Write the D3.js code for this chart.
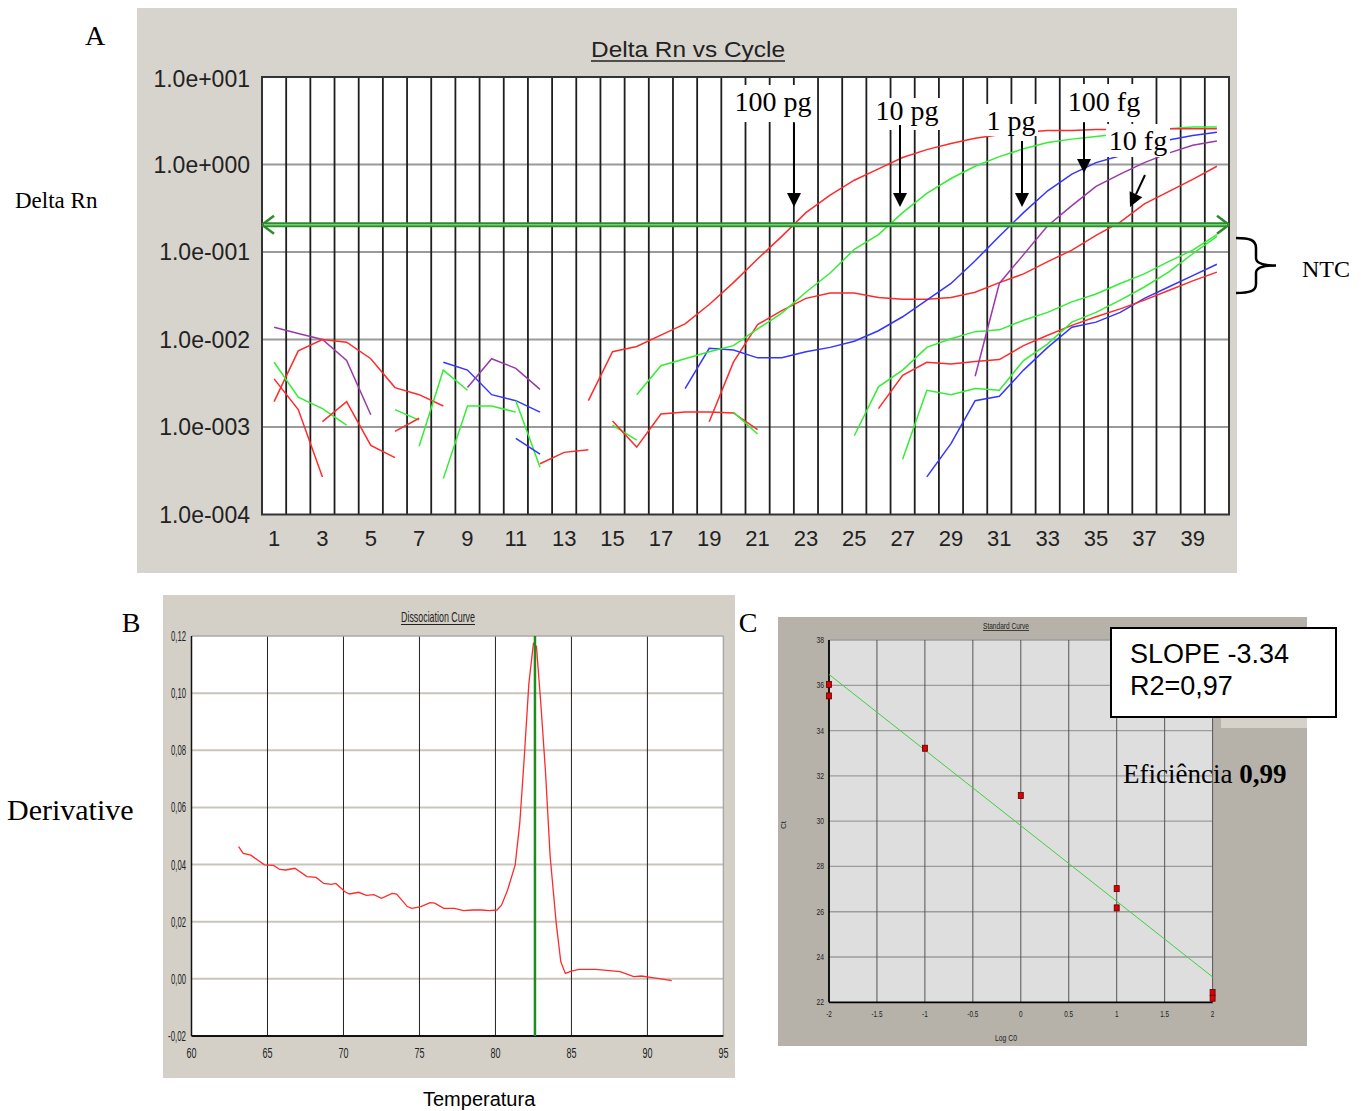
<!DOCTYPE html>
<html><head><meta charset="utf-8">
<script src="https://cdn.jsdelivr.net/npm/d3@7"></script>
<style>body{margin:0;background:#fff}svg{display:block}</style>
</head><body>
<svg id="c" width="1368" height="1111"></svg>
<script>
// ---------- Panel A data ----------
const xTicksA = [1,3,5,7,9,11,13,15,17,19,21,23,25,27,29,31,33,35,37,39];
const yTicksA = [10,1,0.1,0.01,0.001,0.0001];
const yTickLabelsA = ["1.0e+001","1.0e+000","1.0e-001","1.0e-002","1.0e-003","1.0e-004"];
const threshold = 0.205;

const red100pg = [2.00e-3,7.24e-3,8.32e-3,1.12e-2,1.51e-2,2.51e-2,4.47e-2,8.32e-2,0.151,0.282,0.447,0.661,0.891,1.20,1.48,1.74,2.00,2.19,2.34,2.45,2.45,2.51,2.51,2.57,2.57,2.57,2.57]; // from cycle 14
const green10pg = [2.34e-3,5.01e-3,6.03e-3,7.24e-3,8.51e-3,1.32e-2,2.00e-2,3.47e-2,5.75e-2,0.107,0.158,0.282,0.468,0.692,0.955,1.23,1.51,1.78,1.95,2.09,2.24,2.40,2.57,2.69,2.69]; // from 16
const blue1pg = [2.75e-3,7.94e-3,7.59e-3,6.17e-3,6.17e-3,7.24e-3,8.13e-3,9.55e-3,1.26e-2,1.82e-2,2.82e-2,4.37e-2,7.94e-2,0.151,0.282,0.501,0.776,1.05,1.26,1.51,1.91,2.14,2.34]; // from 18
const purple100fg = [3.80e-3,4.37e-2,9.33e-2,0.200,0.339,0.562,0.776,1.05,1.35,1.66,1.86]; // from 30
const red10fg = [1.15e-3,5.50e-3,1.48e-2,2.14e-2,2.95e-2,3.39e-2,3.39e-2,3.02e-2,2.88e-2,2.88e-2,3.02e-2,3.47e-2,4.47e-2,5.62e-2,7.76e-2,0.105,0.155,0.219,0.355,0.490,0.676,0.955]; // from 19
const ntcGreen1 = [7.94e-4,2.88e-3,4.47e-3,8.13e-3,1.02e-2,1.23e-2,1.29e-2,1.66e-2,2.04e-2,2.69e-2,3.31e-2,4.37e-2,5.62e-2,7.76e-2,0.105,0.158]; // from 25
const ntcRed1 = [1.62e-3,3.89e-3,5.50e-3,5.25e-3,5.62e-3,5.89e-3,8.51e-3,1.12e-2,1.45e-2,1.82e-2,2.24e-2,2.82e-2,3.63e-2,4.68e-2,5.89e-2]; // from 26
const ntcGreen2 = [4.27e-4,2.63e-3,2.34e-3,2.75e-3,2.63e-3,5.75e-3,8.91e-3,1.58e-2,2.04e-2,2.82e-2,3.98e-2,5.89e-2,9.55e-2,0.151]; // from 27
const ntcBlue1 = [2.69e-4,6.46e-4,2.00e-3,2.24e-3,4.47e-3,8.13e-3,1.38e-2,1.58e-2,2.04e-2,2.95e-2,3.98e-2,5.37e-2,7.24e-2]; // from 28
// early noise segments
const noisePurpleA = [1.38e-2,1.17e-2,1.00e-2,5.75e-3,1.38e-3]; // from 1
const noiseRedA = [1.95e-3,7.41e-3,1.00e-2,9.33e-3,6.03e-3,2.82e-3,2.34e-3,1.74e-3]; // from 1
const noiseRedB = [3.55e-3,1.58e-3,2.69e-4]; // from 1
const noiseGreenA = [5.50e-3,2.19e-3,1.62e-3,1.05e-3]; // from 1
const noiseRedC = [1.15e-3,1.95e-3,6.17e-4,4.47e-4]; // from 3
const noiseGreenB = [1.58e-3,1.20e-3]; // from 6
const noiseRedD = [8.91e-4,1.26e-3]; // from 6
const noiseGreenC = [6.03e-4,4.47e-3,2.63e-3]; // from 7
const noiseBlueA = [5.50e-3,4.47e-3,2.34e-3,2.00e-3,1.48e-3]; // from 8
const noiseGreenD = [2.57e-4,1.74e-3,1.74e-3,1.48e-3]; // from 8
const noisePurpleB = [2.82e-3,6.03e-3,4.68e-3,2.69e-3]; // from 9
const noiseGreenE = [2.00e-3,3.47e-4]; // from 11
const noiseBlueB = [7.41e-4,4.90e-4]; // from 11
const noiseRedF = [3.80e-4,5.13e-4,5.50e-4]; // from 12
const noiseGreenF = [1.05e-3,7.08e-4]; // from 15
const noiseRedH = [1.17e-3,5.89e-4,1.41e-3,1.48e-3,1.48e-3,1.45e-3,9.33e-4]; // from 15
const noiseGreenG = [1.48e-3,8.32e-4]; // from 20

const annotLabels = ["100 pg","10 pg","1 pg","100 fg","10 fg"];

// ---------- Panel B data ----------
const meltTemp = [63.1,63.4,63.9,64.8,65.4,65.8,66.2,66.8,67.6,68.2,68.7,69.2,69.5,70.1,70.4,71.0,71.5,72.0,72.5,73.2,73.5,74.2,74.5,75.1,75.7,76.0,76.6,77.3,77.9,78.5,79.1,79.6,80.1,80.4,80.8,81.3,81.6,81.9,82.2,82.5,82.7,83.0,83.3,83.6,84.0,84.3,84.6,85.0,85.5,86.6,87.5,88.2,89.1,89.6,90.2,91.0,91.6];
const meltDeriv = [0.0463,0.0439,0.0433,0.0399,0.0397,0.0383,0.0381,0.0387,0.0358,0.0355,0.0334,0.0331,0.0334,0.0305,0.0297,0.0303,0.0292,0.0295,0.0282,0.0299,0.0297,0.0253,0.0247,0.0253,0.0267,0.0265,0.0247,0.0247,0.0239,0.0241,0.0241,0.0239,0.0241,0.0258,0.0311,0.0399,0.0544,0.0778,0.1034,0.1174,0.1163,0.0953,0.0719,0.0428,0.0194,0.0060,0.0019,0.0027,0.0033,0.0033,0.0029,0.0025,0.0008,0.0010,0.0005,-0.0001,-0.0006];
const meltPeakTemp = 82.6;
const xTicksB = [60,65,70,75,80,85,90,95];
const yTicksB = [0.12,0.10,0.08,0.06,0.04,0.02,0.00,-0.02];
const yTickLabelsB = ["0,12","0,10","0,08","0,06","0,04","0,02","0,00","-0,02"];

// ---------- Panel C data ----------
const stdLogC0 = [-2,-2,-1,0,1,1,2,2];
const stdCt = [36.04,35.53,33.22,31.13,27.02,26.17,22.43,22.18];
const fitX = [-2,2];
const fitY = [36.48,23.12];
const xTicksC = [-2,-1.5,-1,-0.5,0,0.5,1,1.5,2];
const xTickLabelsC = ["-2","-1.5","-1","-0.5","0","0.5","1","1.5","2"];
const yTicksC = [22,24,26,28,30,32,34,36,38];

// ---------- Drawing ----------
const svg = d3.select("#c");
const SERIF = "'Liberation Serif','Times New Roman',serif";
const SANS = "'Liberation Sans',Arial,sans-serif";
const RED="#ff2a2a", GREEN="#33ee33", BLUE="#3535ff", PURPLE="#9a3aa8";

// ===== Panel A =====
svg.append("rect").attr("x",137).attr("y",8).attr("width",1100).attr("height",565).attr("fill","#d7d4cd");
const xA = d3.scaleLinear().domain([0.5,40.5]).range([262,1229]);
const yA = d3.scaleLog().domain([1e-4,10]).range([514.5,77]);
svg.append("rect").attr("x",262).attr("y",77).attr("width",967).attr("height",437.5).attr("fill","#fff");
const gA = svg.append("g");
gA.selectAll(".hg").data(yTicksA.slice(1,5)).enter().append("line")
  .attr("x1",262).attr("x2",1229).attr("y1",d=>yA(d)).attr("y2",d=>yA(d))
  .attr("stroke","#9a9a9a").attr("stroke-width",2);
gA.selectAll(".vg").data(d3.range(1.5,40,1)).enter().append("line")
  .attr("x1",d=>xA(d)).attr("x2",d=>xA(d)).attr("y1",77).attr("y2",514.5)
  .attr("stroke","#1e1e1e").attr("stroke-width",1.8);
gA.append("rect").attr("x",262).attr("y",77).attr("width",967).attr("height",437.5)
  .attr("fill","none").attr("stroke","#333").attr("stroke-width",2);

const seriesA = [
  {v:noisePurpleA,s:1,c:PURPLE},{v:noiseRedA,s:1,c:RED},{v:noiseRedB,s:1,c:RED},{v:noiseGreenA,s:1,c:GREEN},
  {v:noiseRedC,s:3,c:RED},{v:noiseGreenB,s:6,c:GREEN},{v:noiseRedD,s:6,c:RED},{v:noiseGreenC,s:7,c:GREEN},
  {v:noiseBlueA,s:8,c:BLUE},{v:noiseGreenD,s:8,c:GREEN},{v:noisePurpleB,s:9,c:PURPLE},{v:noiseGreenE,s:11,c:GREEN},
  {v:noiseBlueB,s:11,c:BLUE},{v:noiseRedF,s:12,c:RED},{v:noiseGreenF,s:15,c:GREEN},{v:noiseRedH,s:15,c:RED},
  {v:noiseGreenG,s:20,c:GREEN},
  {v:ntcBlue1,s:28,c:BLUE},{v:ntcRed1,s:26,c:RED},{v:ntcGreen2,s:27,c:GREEN},{v:ntcGreen1,s:25,c:GREEN},
  {v:red10fg,s:19,c:RED},{v:purple100fg,s:30,c:PURPLE},{v:blue1pg,s:18,c:BLUE},{v:green10pg,s:16,c:GREEN},{v:red100pg,s:14,c:RED}
];
seriesA.forEach(sr=>{
  const line = d3.line().x((d,i)=>xA(sr.s+i)).y(d=>yA(d));
  gA.append("path").attr("d",line(sr.v)).attr("fill","none").attr("stroke",sr.c).attr("stroke-width",1.5);
});

const ty = yA(threshold);
gA.append("line").attr("x1",xA(0.5)+3).attr("x2",xA(40.5)-3).attr("y1",ty).attr("y2",ty).attr("stroke","#2e8b2e").attr("stroke-width",5);
gA.append("line").attr("x1",xA(0.5)+3).attr("x2",xA(40.5)-3).attr("y1",ty).attr("y2",ty).attr("stroke","#6fd36f").attr("stroke-width",1.4);
gA.append("path").attr("d",`M${xA(0.5)},${ty} l12,-9 M${xA(0.5)},${ty} l12,9`).attr("stroke","#2e8b2e").attr("stroke-width",2.5).attr("fill","none");
gA.append("path").attr("d",`M${xA(40.5)},${ty} l-12,-9 M${xA(40.5)},${ty} l-12,9`).attr("stroke","#2e8b2e").attr("stroke-width",2.5).attr("fill","none");

gA.selectAll(".yl").data(yTicksA).enter().append("text")
  .attr("x",250).attr("y",(d,i)=>yA(d)+(i===0?2:0)).attr("dy","0.36em").attr("text-anchor","end")
  .attr("font-family",SANS).attr("font-size",23).attr("fill","#222").text((d,i)=>yTickLabelsA[i]);
gA.selectAll(".xl").data(xTicksA).enter().append("text")
  .attr("x",d=>xA(d)).attr("y",546).attr("text-anchor","middle")
  .attr("font-family",SANS).attr("font-size",22).attr("fill","#222").text(d=>d);
gA.append("text").attr("x",688).attr("y",57).attr("text-anchor","middle").attr("font-family",SANS)
  .attr("font-size",22).attr("textLength",194).attr("lengthAdjust","spacingAndGlyphs").attr("fill","#222").text("Delta Rn vs Cycle");
gA.append("line").attr("x1",591).attr("x2",785).attr("y1",61).attr("y2",61).attr("stroke","#222").attr("stroke-width",1.5);

const annot = [
  {x1:731,x2:815,y1:85,y2:122,tx:773,ty:111},
  {x1:874,x2:941,y1:98,y2:130,tx:907,ty:120},
  {x1:985,x2:1038,y1:104,y2:136,tx:1011,ty:130},
  {x1:1066,x2:1143,y1:84,y2:122,tx:1104,ty:111},
  {x1:1106,x2:1170,y1:124,y2:157,tx:1138,ty:150}
];
annot.forEach((a,i)=>{
  gA.append("rect").attr("x",a.x1).attr("y",a.y1).attr("width",a.x2-a.x1).attr("height",a.y2-a.y1).attr("fill","#fff");
  gA.append("text").attr("x",a.tx).attr("y",a.ty).attr("text-anchor","middle").attr("font-family",SERIF)
    .attr("font-size",28).attr("fill","#000").text(annotLabels[i]);
});
function arrow(x1,y1,x2,y2){
  const ang=Math.atan2(y2-y1,x2-x1), L=14, W=7;
  const bx=x2-L*Math.cos(ang), by=y2-L*Math.sin(ang);
  gA.append("line").attr("x1",x1).attr("y1",y1).attr("x2",bx).attr("y2",by).attr("stroke","#000").attr("stroke-width",2);
  gA.append("path").attr("d",`M${x2},${y2}L${bx+W*Math.sin(ang)},${by-W*Math.cos(ang)}L${bx-W*Math.sin(ang)},${by+W*Math.cos(ang)}Z`).attr("fill","#000");
}
arrow(794,123,794,207);
arrow(900,125,900,207);
arrow(1022,141,1022,207);
arrow(1084,123,1084,173);
arrow(1145,175,1130,207);

svg.append("text").attr("x",95).attr("y",45).attr("text-anchor","middle").attr("font-family",SERIF).attr("font-size",28).text("A");
svg.append("text").attr("x",15).attr("y",208).attr("font-family",SERIF).attr("font-size",23).text("Delta Rn");
svg.append("path").attr("d","M1236,238 C1250,238 1256,240 1256,248 L1256,258 C1256,263 1262,265.5 1276,265.5 C1262,265.5 1256,268 1256,273 L1256,284 C1256,291 1250,293 1236,293")
  .attr("fill","none").attr("stroke","#000").attr("stroke-width",2.5);
svg.append("text").attr("x",1302).attr("y",277).attr("font-family",SERIF).attr("font-size",24).text("NTC");

// ===== Panel B =====
svg.append("rect").attr("x",163).attr("y",595).attr("width",572).attr("height",483).attr("fill","#d4d0c8");
const xB = d3.scaleLinear().domain([60,95]).range([191.5,723.4]);
const yB = d3.scaleLinear().domain([-0.02,0.12]).range([1036,636]);
svg.append("rect").attr("x",191.5).attr("y",636).attr("width",531.9).attr("height",400).attr("fill","#fff");
const gB = svg.append("g");
gB.selectAll(".hg").data(yTicksB.slice(1,7)).enter().append("line")
  .attr("x1",191.5).attr("x2",723.4).attr("y1",d=>yB(d)).attr("y2",d=>yB(d)).attr("stroke","#c9c5bd").attr("stroke-width",2);
gB.selectAll(".vg").data(xTicksB.slice(1,7)).enter().append("line")
  .attr("x1",d=>xB(d)).attr("x2",d=>xB(d)).attr("y1",636).attr("y2",1036).attr("stroke","#222").attr("stroke-width",1);
gB.append("line").attr("x1",191.5).attr("x2",723.4).attr("y1",636).attr("y2",636).attr("stroke","#aaa").attr("stroke-width",1.5);
gB.append("line").attr("x1",723.4).attr("x2",723.4).attr("y1",636).attr("y2",1036).attr("stroke","#aaa").attr("stroke-width",1.5);
gB.append("line").attr("x1",191.5).attr("x2",191.5).attr("y1",636).attr("y2",1036).attr("stroke","#111").attr("stroke-width",1.5);
gB.append("line").attr("x1",191.5).attr("x2",723.4).attr("y1",1036).attr("y2",1036).attr("stroke","#111").attr("stroke-width",2);
gB.append("path").attr("d",d3.line().x((d,i)=>xB(meltTemp[i])).y(d=>yB(d))(meltDeriv))
  .attr("fill","none").attr("stroke","#ff2a2a").attr("stroke-width",1.3);
gB.append("line").attr("x1",xB(meltPeakTemp)).attr("x2",xB(meltPeakTemp)).attr("y1",636).attr("y2",1036).attr("stroke","#1e8c1e").attr("stroke-width",2.5);
gB.selectAll(".yl").data(yTicksB).enter().append("text")
  .attr("x",186).attr("y",d=>yB(d)+5).attr("text-anchor","end").attr("font-family",SANS).attr("font-size",14)
  .attr("textLength",(d,i)=>yTickLabelsB[i].length>4?18:15).attr("lengthAdjust","spacingAndGlyphs").attr("fill","#222")
  .text((d,i)=>yTickLabelsB[i]);
gB.selectAll(".xl").data(xTicksB).enter().append("text")
  .attr("x",d=>xB(d)-5).attr("y",1058).attr("font-family",SANS).attr("font-size",14)
  .attr("textLength",10).attr("lengthAdjust","spacingAndGlyphs").attr("fill","#222").text(d=>d);
gB.append("text").attr("x",401).attr("y",622).attr("font-family",SANS).attr("font-size",15)
  .attr("textLength",74).attr("lengthAdjust","spacingAndGlyphs").attr("fill","#222").text("Dissociation Curve");
gB.append("line").attr("x1",401).attr("x2",475).attr("y1",624.5).attr("y2",624.5).attr("stroke","#222").attr("stroke-width",1);
svg.append("text").attr("x",131).attr("y",632).attr("text-anchor","middle").attr("font-family",SERIF).attr("font-size",28).text("B");
svg.append("text").attr("x",7).attr("y",820).attr("font-family",SERIF).attr("font-size",30).text("Derivative");
svg.append("text").attr("x",423).attr("y",1106).attr("font-family",SANS).attr("font-size",20).text("Temperatura");

// ===== Panel C =====
svg.append("rect").attr("x",778).attr("y",617).attr("width",529).attr("height",429).attr("fill","#b6b2aa");
svg.append("rect").attr("x",1221).attr("y",715).attr("width",86).attr("height",13).attr("fill","#d6d2ca");
const xC = d3.scaleLinear().domain([-2,2]).range([829,1212.6]);
const yC = d3.scaleLinear().domain([22,38]).range([1002.3,640]);
svg.append("rect").attr("x",829).attr("y",640).attr("width",383.6).attr("height",362.3).attr("fill","#dedede");
const gC = svg.append("g");
gC.selectAll(".hg").data(yTicksC.slice(1)).enter().append("line")
  .attr("x1",829).attr("x2",1212.6).attr("y1",d=>yC(d)).attr("y2",d=>yC(d)).attr("stroke","#9c9c9c").attr("stroke-width",1.3);
gC.selectAll(".vg").data(xTicksC.slice(1)).enter().append("line")
  .attr("x1",d=>xC(d)).attr("x2",d=>xC(d)).attr("y1",640).attr("y2",1002.3).attr("stroke","#555").attr("stroke-width",1);
gC.append("line").attr("x1",829).attr("x2",829).attr("y1",640).attr("y2",1002.3).attr("stroke","#000").attr("stroke-width",1.8);
gC.append("line").attr("x1",829).attr("x2",1212.6).attr("y1",1002.3).attr("y2",1002.3).attr("stroke","#000").attr("stroke-width",1.8);
gC.append("path").attr("d",d3.line().x(d=>xC(d)).y((d,i)=>yC(fitY[i]))(fitX)).attr("stroke","#3fcf3f").attr("stroke-width",1).attr("fill","none");
gC.selectAll(".pt").data(stdCt).enter().append("rect")
  .attr("x",(d,i)=>xC(stdLogC0[i])-2.5).attr("y",d=>yC(d)-3).attr("width",5).attr("height",6)
  .attr("fill","#e00000").attr("stroke","#5a0000").attr("stroke-width",0.8);
gC.selectAll(".yl").data(yTicksC).enter().append("text")
  .attr("x",824).attr("y",d=>yC(d)+3).attr("text-anchor","end").attr("font-family",SANS).attr("font-size",8.5)
  .attr("textLength",7.5).attr("lengthAdjust","spacingAndGlyphs").attr("fill","#222").text(d=>d);
gC.selectAll(".xl").data(xTicksC).enter().append("text")
  .attr("x",d=>xC(d)).attr("y",1017).attr("text-anchor","middle").attr("font-family",SANS).attr("font-size",8.5)
  .attr("fill","#222").attr("transform",d=>`translate(${xC(d)},0) scale(0.75,1) translate(${-xC(d)},0)`)
  .text((d,i)=>xTickLabelsC[i]);
gC.append("text").attr("x",1006).attr("y",628.5).attr("text-anchor","middle").attr("font-family",SANS).attr("font-size",9.5)
  .attr("textLength",46).attr("lengthAdjust","spacingAndGlyphs").attr("fill","#222").text("Standard Curve");
gC.append("line").attr("x1",983).attr("x2",1029).attr("y1",630.5).attr("y2",630.5).attr("stroke","#222").attr("stroke-width",0.8);
gC.append("text").attr("x",1006).attr("y",1041).attr("text-anchor","middle").attr("font-family",SANS).attr("font-size",9)
  .attr("textLength",22).attr("lengthAdjust","spacingAndGlyphs").attr("fill","#222").text("Log C0");
gC.append("text").attr("transform","translate(786,825) rotate(-90)").attr("text-anchor","middle").attr("font-family",SANS)
  .attr("font-size",8).attr("fill","#222").text("Ct");
svg.append("rect").attr("x",1111).attr("y",628).attr("width",225).attr("height",89).attr("fill","#fff").attr("stroke","#000").attr("stroke-width",2);
svg.append("text").attr("x",1130).attr("y",663).attr("font-family",SANS).attr("font-size",27).text("SLOPE -3.34");
svg.append("text").attr("x",1130).attr("y",695).attr("font-family",SANS).attr("font-size",27).text("R2=0,97");
const ef = svg.append("text").attr("x",1123).attr("y",783).attr("font-family",SERIF).attr("font-size",27);
ef.append("tspan").text("Eficiência ");
ef.append("tspan").attr("font-weight","bold").text("0,99");
svg.append("text").attr("x",748).attr("y",632).attr("text-anchor","middle").attr("font-family",SERIF).attr("font-size",28).text("C");
</script>
</body></html>
